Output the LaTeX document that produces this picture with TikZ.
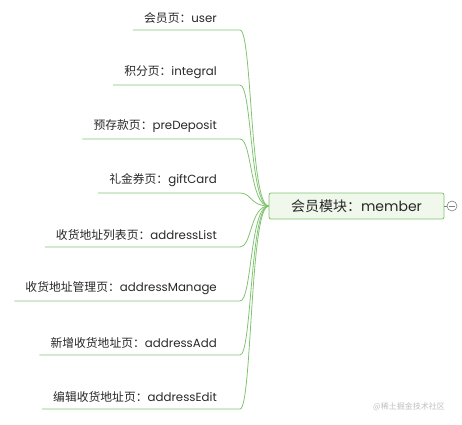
\documentclass[tikz,border=0pt]{standalone}
\usepackage{fontspec}
\usetikzlibrary{calc}
\setmainfont{Poppins}
\newfontfamily\cjk{Noto Sans CJK SC}
\newcommand{\zh}[1]{{\cjk #1}}

\definecolor{branchgreen}{RGB}{128,196,112}
\definecolor{rootfill}{RGB}{240,248,236}
\definecolor{textgray}{RGB}{40,40,40}

\begin{document}
\begin{tikzpicture}[x=1pt, y=-1pt,
    % Define the styles for the mind map
    leaf/.style={inner xsep=11pt, inner ysep=6pt, font=\fontsize{11.8}{13}\selectfont, text=textgray},
    branch/.style={draw=branchgreen, line width=0.8pt},
    rootbox/.style={draw=branchgreen, fill=rootfill, rounded corners=2pt, line width=0.8pt,
        minimum width=175pt, minimum height=26pt, font=\fontsize{14}{16}\selectfont, text=textgray}
]
\useasboundingbox (0,0) rectangle (462,424);

% Root node and its collapse button
\node[rootbox] (root) at (356.5,206) {\zh{会员模块：}member};
\node[circle, draw=gray, fill=white, line width=0.6pt, minimum size=10pt, inner sep=0pt] (fold) at (452,206) {};
\draw[gray, line width=0.6pt] (root.east) -- (fold.west);
\draw[gray, line width=0.6pt] ($(fold.center)+(-3,0)$) -- ($(fold.center)+(3,0)$);

% Leaves with their branches
\foreach \i/\y/\txt in {
    1/30/\zh{会员页：}user,
    2/85/\zh{积分页：}integral,
    3/139/\zh{预存款页：}preDeposit,
    4/193/\zh{礼金券页：}giftCard,
    5/247/\zh{收货地址列表页：}addressList,
    6/301/\zh{收货地址管理页：}addressManage,
    7/355/\zh{新增收货地址页：}addressAdd,
    8/409/\zh{编辑收货地址页：}addressEdit}{
  \node[leaf, anchor=south east] (n\i) at (228,\y) {\txt};
  \coordinate (e\i) at (240,\y);
  \draw[branch] (n\i.south west) -- (e\i) .. controls (252,\y) and (250,206) .. (root.west);
}

% Watermark
\node[text=gray!50, font=\fontsize{8}{9}\selectfont\cjk] (mark) at (409,407) {@稀土掘金技术社区};

\end{tikzpicture}
\end{document}
